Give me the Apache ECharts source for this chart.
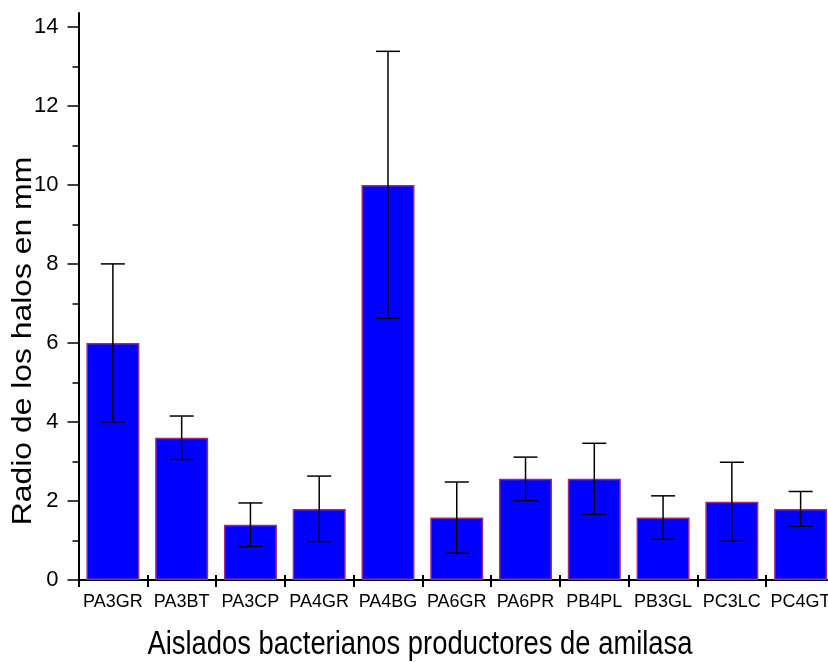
<!DOCTYPE html>
<html>
<head>
<meta charset="utf-8">
<title>Radio de los halos</title>
<script src="https://cdn.jsdelivr.net/npm/echarts@6/dist/echarts.min.js"></script>
<style>
  html, body { margin: 0; padding: 0; background: #ffffff; }
  #chart { width: 828px; height: 662px; }
</style>
</head>
<body>
<div id="chart"></div>
<script>
// Bacterial isolates and their mean halo radius (mm) with error
const isolates = ['PA3GR', 'PA3BT', 'PA3CP', 'PA4GR', 'PA4BG', 'PA6GR', 'PA6PR', 'PB4PL', 'PB3GL', 'PC3LC', 'PC4GT'];
const haloMeans = [6.0, 3.6, 1.4, 1.8, 10.0, 1.58, 2.56, 2.56, 1.58, 1.98, 1.8];
const haloErrors = [2.0, 0.55, 0.55, 0.83, 3.38, 0.9, 0.55, 0.9, 0.55, 1.0, 0.44];
const majorTicks = [0, 2, 4, 6, 8, 10, 12, 14];
const minorTicks = [1, 3, 5, 7, 9, 11, 13];

const sans = "'Liberation Sans', Arial, sans-serif";

const chart = echarts.init(document.getElementById('chart'), null, { renderer: 'canvas' });

const errorData = haloMeans.map((m, i) => [i, m - haloErrors[i], m + haloErrors[i]]);

const option = {
  animation: false,
  backgroundColor: '#ffffff',
  grid: { left: 78.5, top: 13, width: 756.5, bottom: 82, containLabel: false, outerBoundsMode: 'none' },
  xAxis: [
    {
      type: 'category',
      data: isolates,
      position: 'bottom',
      boundaryGap: true,
      axisLine: { show: true, lineStyle: { color: '#000', width: 2 } },
      axisTick: { show: true, inside: false, length: 7, lineStyle: { color: '#000', width: 2 } },
      axisLabel: { show: true, color: '#000', fontFamily: sans, fontSize: 18, margin: 13, interval: 0, hideOverlap: false },
      splitLine: { show: false }
    },
    {
      type: 'category',
      data: isolates,
      position: 'bottom',
      offset: 0,
      boundaryGap: true,
      axisLine: { show: false },
      axisTick: { show: true, inside: true, length: 5, lineStyle: { color: '#000', width: 2 } },
      axisLabel: { show: false },
      splitLine: { show: false }
    }
  ],
  yAxis: [
    {
      type: 'value',
      min: 0,
      max: 14.35,
      position: 'left',
      axisLine: { show: true, lineStyle: { color: '#000', width: 2 } },
      axisTick: { show: true, length: 11, customValues: majorTicks, lineStyle: { color: '#000', width: 1.5 } },
      axisLabel: { show: true, customValues: majorTicks, color: '#000', fontFamily: sans, fontSize: 22, margin: 20 },
      splitLine: { show: false }
    },
    {
      type: 'value',
      min: 0,
      max: 14.35,
      position: 'left',
      offset: 0,
      axisLine: { show: false },
      axisTick: { show: true, length: 6, customValues: minorTicks, lineStyle: { color: '#000', width: 1.5 } },
      axisLabel: { show: false },
      splitLine: { show: false }
    }
  ],
  graphic: [
    {
      type: 'text',
      x: 24,
      y: 341,
      rotation: Math.PI / 2,
      scaleX: 1.18,
      style: {
        text: 'Radio de los halos en mm',
        fontFamily: sans,
        fontSize: 27,
        fill: '#000',
        align: 'center',
        verticalAlign: 'middle'
      }
    },
    {
      type: 'text',
      x: 420,
      y: 645,
      scaleY: 1.18,
      style: {
        text: 'Aislados bacterianos productores de amilasa',
        fontFamily: sans,
        fontSize: 27.4,
        fill: '#000',
        align: 'center',
        verticalAlign: 'middle'
      }
    }
  ],
  series: [
    {
      type: 'bar',
      xAxisIndex: 0,
      yAxisIndex: 0,
      data: haloMeans,
      barWidth: 53,
      itemStyle: { color: '#0000ff', borderColor: '#9c2a8c', borderWidth: 1.5 },
      z: 2
    },
    {
      type: 'custom',
      xAxisIndex: 0,
      yAxisIndex: 0,
      data: errorData,
      z: 5,
      renderItem: function (params, api) {
        const idx = api.value(0);
        const lo = api.coord([idx, api.value(1)]);
        const hi = api.coord([idx, api.value(2)]);
        const half = 12;
        const style = { stroke: '#000', lineWidth: 1.5, fill: null };
        return {
          type: 'group',
          children: [
            { type: 'line', shape: { x1: hi[0], y1: hi[1], x2: lo[0], y2: lo[1] }, style: style },
            { type: 'line', shape: { x1: hi[0] - half, y1: hi[1], x2: hi[0] + half, y2: hi[1] }, style: style },
            { type: 'line', shape: { x1: lo[0] - half, y1: lo[1], x2: lo[0] + half, y2: lo[1] }, style: style }
          ]
        };
      }
    }
  ]
};

chart.setOption(option);
</script>
</body>
</html>
